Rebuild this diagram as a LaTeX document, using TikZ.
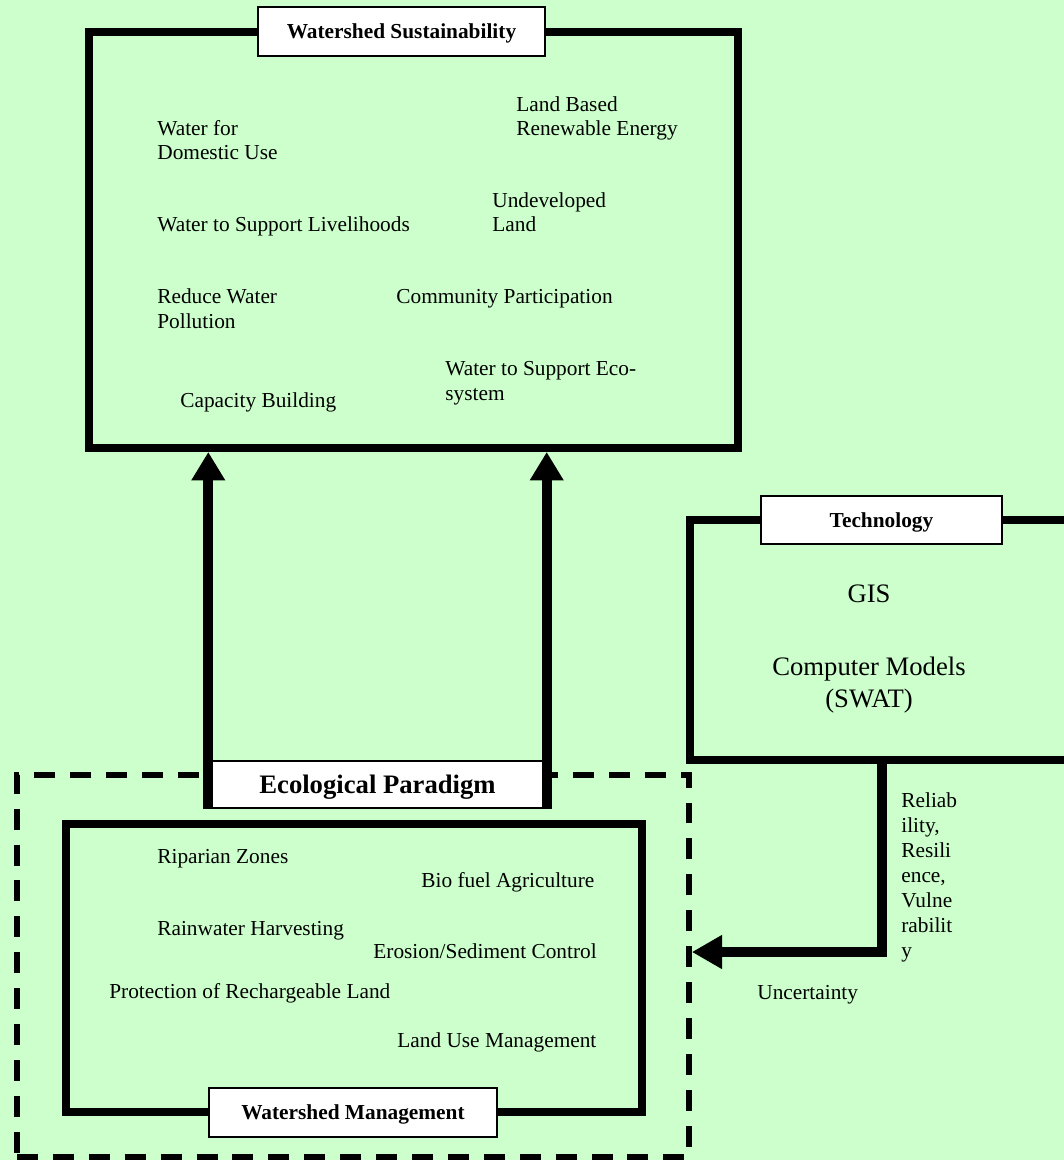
\documentclass[tikz,border=0pt]{standalone}
\usepackage{fontspec}
\setmainfont{Liberation Serif}
\usetikzlibrary{arrows.meta}
\definecolor{paper}{RGB}{204,255,204}
\newcommand{\pxu}{0.5625pt}
\tikzstyle{thickbox} = [rectangle, draw=black, line width=4.5pt, inner sep=0pt]
\tikzstyle{tagbox} = [rectangle, draw=black, fill=white, line width=0.8pt, inner sep=0pt, text depth=0pt, font=\bfseries\fontsize{12}{14}\selectfont]
\tikzstyle{dashbox} = [rectangle, draw=black, line width=3.2pt, dash pattern=on 11.8pt off 8.4pt, inner sep=0pt]
\tikzstyle{item} = [anchor=base west, inner sep=0pt, align=left, font=\fontsize{12}{14.06}\selectfont]
\tikzstyle{bigtext} = [inner sep=0pt, align=center, font=\fontsize{15}{17.6}\selectfont]
\tikzstyle{uparrow} = [line width=5.6pt, -{Triangle[width=18pt,length=16pt]}]
\tikzstyle{sidearrow} = [line width=5.6pt, line join=miter, -{Triangle[width=18pt,length=17pt]}]

\begin{document}
\begin{tikzpicture}[x=\pxu, y=-\pxu]
        \path[use as bounding box, fill=paper] (0,0) rectangle (1064,1160);
        \clip (0,0) rectangle (1064,1160);

        \node (sust) [thickbox, minimum width=649*\pxu, minimum height=416*\pxu] at (413.5,240) {};
        \node (susttag) [tagbox, minimum width=287*\pxu, minimum height=49*\pxu] at (401.5,31.5) {Watershed Sustainability};
        \node (domestic) [item] at (157,160) {Water for\\Domestic Use};
        \node (energy) [item] at (516,136) {Land Based\\Renewable Energy};
        \node (livelihood) [item] at (157,231) {Water to Support Livelihoods};
        \node (undeveloped) [item] at (492,232) {Undeveloped\\Land};
        \node (pollution) [item] at (157,328) {Reduce Water\\Pollution};
        \node (community) [item] at (396,303) {Community Participation};
        \node (ecosystem) [item] at (445,400) {Water to Support Eco-\\system};
        \node (capacity) [item] at (180,407) {Capacity Building};

        \node (tech) [thickbox, line width=4pt, minimum width=385*\pxu, minimum height=240*\pxu] at (882.5,640) {};
        \node (techtag) [tagbox, minimum width=241*\pxu, minimum height=48*\pxu] at (881.5,520) {Technology};
        \node (gis) [bigtext, anchor=base] at (869,602) {GIS};
        \node (models) [bigtext, anchor=base] at (869,707) {Computer Models\\(SWAT)};

        \node (paradigm) [dashbox, minimum width=672*\pxu, minimum height=382*\pxu] at (353,966) {};
        \node (manage) [thickbox, line width=4pt, minimum width=576*\pxu, minimum height=288*\pxu] at (354,968) {};
        \node (managetag) [tagbox, minimum width=288*\pxu, minimum height=49*\pxu] at (353,1112.5) {Watershed Management};
        \node (riparian) [item] at (157,863) {Riparian Zones};
        \node (biofuel) [item] at (421,887) {Bio fuel Agriculture};
        \node (rainwater) [item] at (157,935) {Rainwater Harvesting};
        \node (erosion) [item] at (373,958) {Erosion/Sediment Control};
        \node (recharge) [item] at (109,998) {Protection of Rechargeable Land};
        \node (landuse) [item] at (397,1047) {Land Use Management};

        \node (eco) [tagbox, font=\bfseries\fontsize{15}{18}\selectfont, minimum width=337*\pxu, minimum height=47*\pxu] at (377.5,784.5) {Ecological Paradigm};
        \draw [uparrow] (eco.south west) -- (eco.south west |- sust.south);
        \draw [uparrow] (eco.south east) -- (eco.south east |- sust.south);

        \coordinate (bend) at (882,952);
        \draw [sidearrow] (tech.south -| bend) -- (bend) -- (paradigm.east |- bend);
        \node (measures) [item] at (901,957) {Reliab\\ility,\\Resili\\ence,\\Vulne\\rabilit\\y};
        \node (uncertainty) [item] at (757,999) {Uncertainty};
    \end{tikzpicture}
\end{document}
